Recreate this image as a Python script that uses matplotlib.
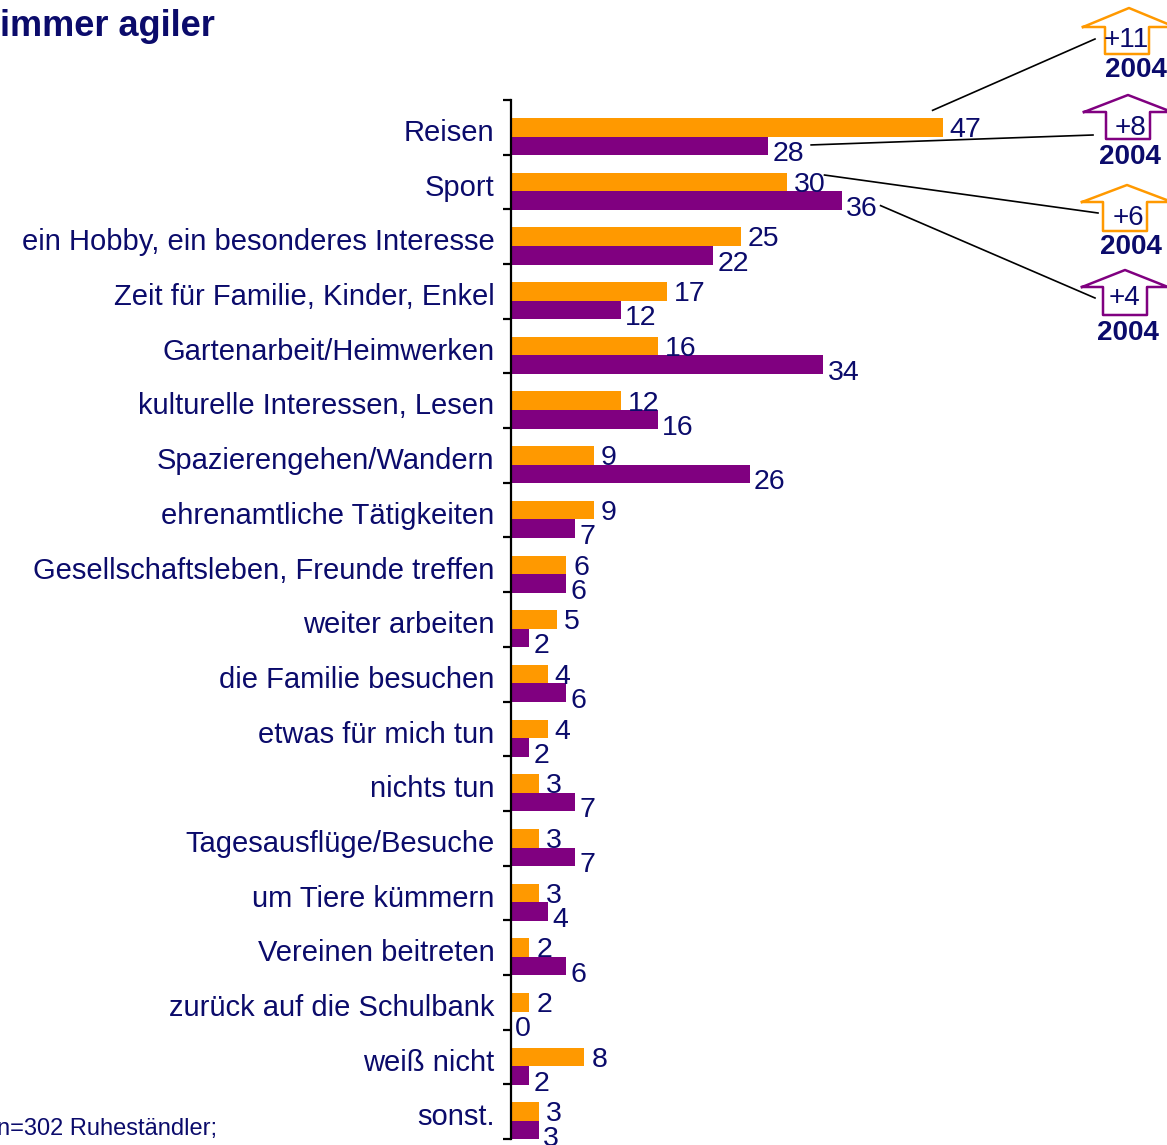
import matplotlib.pyplot as plt
import numpy as np

plt.rcParams['font.family'] = ['Liberation Sans', 'DejaVu Sans']

navy = '#0b0b6b'
orange = '#ff9900'
purple = '#800080'

categories = ['Reisen', 'Sport', 'ein Hobby, ein besonderes Interesse',
              'Zeit für Familie, Kinder, Enkel', 'Gartenarbeit/Heimwerken',
              'kulturelle Interessen, Lesen', 'Spazierengehen/Wandern',
              'ehrenamtliche Tätigkeiten', 'Gesellschaftsleben, Freunde treffen',
              'weiter arbeiten', 'die Familie besuchen', 'etwas für mich tun',
              'nichts tun', 'Tagesausflüge/Besuche', 'um Tiere kümmern',
              'Vereinen beitreten', 'zurück auf die Schulbank', 'weiß nicht', 'sonst.']
orange_vals = [47, 30, 25, 17, 16, 12, 9, 9, 6, 5, 4, 4, 3, 3, 3, 2, 2, 8, 3]
purple_vals = [28, 36, 22, 12, 34, 16, 26, 7, 6, 2, 6, 2, 7, 7, 4, 6, 0, 2, 3]

# callouts: (row, series, change text)
callouts = [(0, 'o', '+11'), (0, 'p', '+8'), (1, 'o', '+6'), (1, 'p', '+4')]

W, H = 1167, 1145
fig = plt.figure(figsize=(W / 100, H / 100), dpi=100)
ax = fig.add_axes([511 / W, 1 - 1139 / H, 551 / W, 1039 / H])

n = len(categories)
rows = np.arange(n)
ax.barh(rows + 0.5, orange_vals, height=0.34, color=orange)
ax.barh(rows + 0.84, purple_vals, height=0.34, color=purple)

for i in range(n):
    ax.annotate(str(orange_vals[i]), (orange_vals[i], i + 0.5), xytext=(5, -2),
                textcoords='offset points', va='center', ha='left',
                fontsize=20.5, color=navy)
    ax.annotate(str(purple_vals[i]), (purple_vals[i], i + 0.84), xytext=(3, -6),
                textcoords='offset points', va='center', ha='left',
                fontsize=20.5, color=navy)

ax.set_xlim(0, 60)
ax.set_ylim(n, 0)
for s in ['top', 'right', 'bottom']:
    ax.spines[s].set_visible(False)
ax.spines['left'].set_linewidth(1.6)
ax.set_xticks([])
ax.set_yticks(np.arange(n + 1))
ax.set_yticklabels([])
ax.tick_params(axis='y', which='major', direction='out', length=6, width=1.6)
ax.set_yticks(rows + 0.55, minor=True)
ax.set_yticklabels(categories, minor=True, fontsize=21, color=navy)
ax.tick_params(axis='y', which='minor', length=0, pad=12)

# title and footnote (cropped in original)
fig.text(0, 1 - 27 / H, 'immer agiler', fontsize=26, fontweight='bold',
         color=navy, ha='left', va='center')
fig.text(-3 / W, 1 - 1129 / H, 'n=302 Ruheständler;', fontsize=17,
         color=navy, ha='left', va='center')

# arrow boxes on the right
boxes = [
    dict(tip=(1129, 8), base=27, left=1083, shaft=(1105, 1149), bottom=54,
         txt=(1126, 40), yr=(1136, 70)),
    dict(tip=(1128, 95), base=112, left=1084, shaft=(1106, 1150), bottom=139,
         txt=(1130, 128), yr=(1130, 157)),
    dict(tip=(1127, 185), base=202, left=1082, shaft=(1103, 1147), bottom=231,
         txt=(1128, 218), yr=(1131, 247)),
    dict(tip=(1125, 270), base=287, left=1082, shaft=(1103, 1147), bottom=315,
         txt=(1125, 298), yr=(1128, 333)),
]
line_ends = [(1095, 39), (1093, 135), (1098, 213), (1095, 298)]
start_offsets = [(-10, -17), (43, -1), (38, -7), (39, 5)]

fig.canvas.draw()
for k, (row, ser, txt) in enumerate(callouts):
    b = boxes[k]
    col = orange if ser == 'o' else purple
    tx, ty = b['tip']
    right = 2 * tx - b['left']
    s0, s1 = b['shaft']
    pts = [(b['left'], b['base']), (tx, ty), (right, b['base']), (s1, b['base']),
           (s1, b['bottom']), (s0, b['bottom']), (s0, b['base']), (b['left'], b['base'])]
    xs = [p[0] / W for p in pts]
    ys = [1 - p[1] / H for p in pts]
    fig.add_artist(plt.Line2D(xs, ys, color=col, lw=1.8, transform=fig.transFigure))
    fig.text(b['txt'][0] / W, 1 - b['txt'][1] / H, txt, fontsize=20, color=navy,
             ha='center', va='center')
    fig.text(b['yr'][0] / W, 1 - b['yr'][1] / H, '2004', fontsize=20,
             fontweight='bold', color=navy, ha='center', va='center')

    val = orange_vals[row] if ser == 'o' else purple_vals[row]
    yy = row + 0.5 if ser == 'o' else row + 0.84
    px, py = ax.transData.transform((val, yy))
    sx = px + start_offsets[k][0]
    sy = py - start_offsets[k][1]
    ex, ey = line_ends[k]
    fig.add_artist(plt.Line2D([sx / W, ex / W], [sy / H, 1 - ey / H], color='black',
                              lw=1.2, transform=fig.transFigure))

fig.savefig('out.png', dpi=100)
